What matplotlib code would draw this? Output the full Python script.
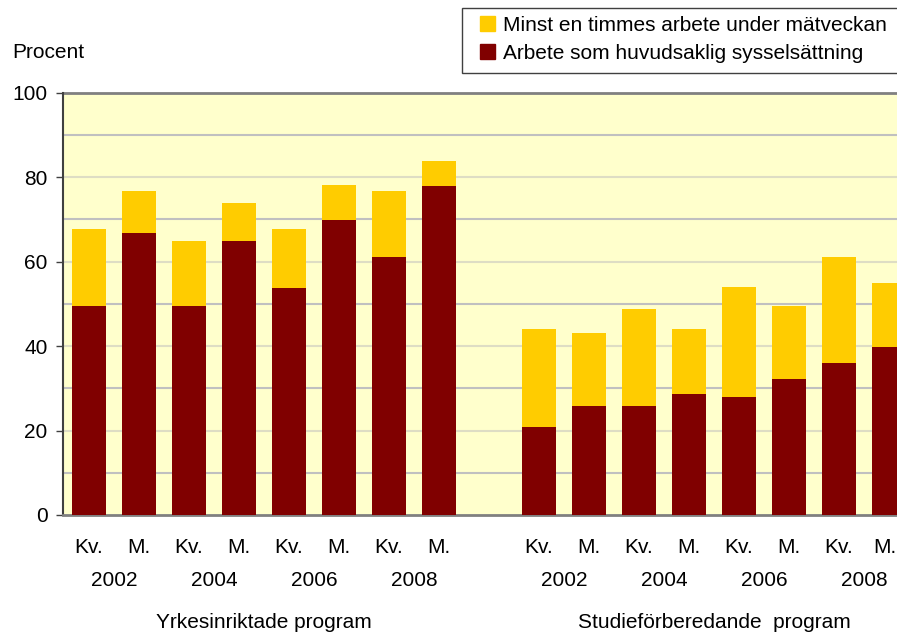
import numpy as np
import matplotlib.pyplot as plt
from matplotlib.patches import Patch, Rectangle

import matplotlib
matplotlib.rcParams['font.family'] = 'sans-serif'
matplotlib.rcParams['font.sans-serif'] = ['Liberation Sans']

# Andel (procent) per grupp: kvinnor/män, 2002-2008
kon = ['Kv.', 'M.'] * 4
ar = ['2002', '2004', '2006', '2008']
grupper = ['Yrkesinriktade program', 'Studieförberedande  program']

yrk_huvud = [49.5, 66.8, 49.5, 64.9, 53.7, 69.8, 61.1, 77.9]
yrk_minst = [67.7, 76.7, 64.9, 73.9, 67.7, 78.1, 76.7, 83.8]
stu_huvud = [20.8, 25.8, 25.8, 28.7, 27.9, 32.2, 36.0, 39.8]
stu_minst = [44.0, 43.1, 48.8, 44.0, 54.0, 49.6, 61.1, 54.9]

gul = '#ffcc00'
rod = '#800000'
fs = 15
W, H = 897, 633

fig = plt.figure(figsize=(8.97, 6.33), dpi=100)
ax = fig.add_axes([63 / W, 118 / H, 856 / W, 422.3 / H])
ax.set_facecolor('#ffffcc')

x1 = np.arange(8)
x2 = np.arange(8) + 9
for x, huvud, minst in [(x1, yrk_huvud, yrk_minst), (x2, stu_huvud, stu_minst)]:
    ax.bar(x, minst, width=0.68, color=gul, zorder=3)
    ax.bar(x, huvud, width=0.68, color=rod, zorder=4)

ax.set_xlim(-0.52, 16.6)
ax.set_ylim(0, 100)

# rutnät
for v in [10, 30, 50, 70, 90]:
    ax.axhline(v, color='#c0c0c0', lw=1.5, zorder=1)
for v in [20, 40, 60, 80]:
    ax.axhline(v, color='#deddc4', lw=1.5, zorder=1)
ax.axhline(100, color='#808080', lw=2, zorder=2, clip_on=False)

ax.set_yticks([0, 20, 40, 60, 80, 100])
ax.tick_params(axis='y', labelsize=fs, length=5, width=1, color='#404040', pad=6)
ax.set_xticks([])
for s in ['top', 'right']:
    ax.spines[s].set_visible(False)
ax.spines['left'].set_color('#404040')
ax.spines['left'].set_linewidth(1.5)
ax.spines['bottom'].set_color('#808080')
ax.spines['bottom'].set_linewidth(2)

# x-etiketter
trans = ax.get_xaxis_transform()
for x in [x1, x2]:
    for i, k in enumerate(kon):
        xp = x[i] - (0.08 if x[i] == x2[-1] else 0)
        ax.text(xp, -0.076, k, transform=trans, ha='center', va='center', fontsize=fs)
    for j, a in enumerate(ar):
        ax.text(x[2 * j] + 0.5, -0.154, a, transform=trans, ha='center', va='center', fontsize=fs)
ax.text(3.5, -0.255, grupper[0], transform=trans, ha='center', va='center', fontsize=fs)
ax.text(12.5, -0.255, grupper[1], transform=trans, ha='center', va='center', fontsize=fs)

fig.text(12 / W, 1 - 53 / H, 'Procent', ha='left', va='center', fontsize=fs)

# förklaring
fig.patches.append(Rectangle((462 / W, 1 - 73 / H), 450 / W, 65 / H, transform=fig.transFigure,
                             facecolor='white', edgecolor='#404040', lw=1, zorder=5))
handles = [Patch(color=gul, label='Minst en timmes arbete under mätveckan'),
           Patch(color=rod, label='Arbete som huvudsaklig sysselsättning')]
leg = fig.legend(handles=handles, loc='upper left', bbox_to_anchor=(480 / W, 1 - 16 / H),
                 fontsize=fs, frameon=False, handlelength=0.7, handleheight=0.7,
                 handletextpad=0.4, labelspacing=0.42, borderpad=0, borderaxespad=0)
leg.set_zorder(6)

fig.savefig('out.png', dpi=100)
